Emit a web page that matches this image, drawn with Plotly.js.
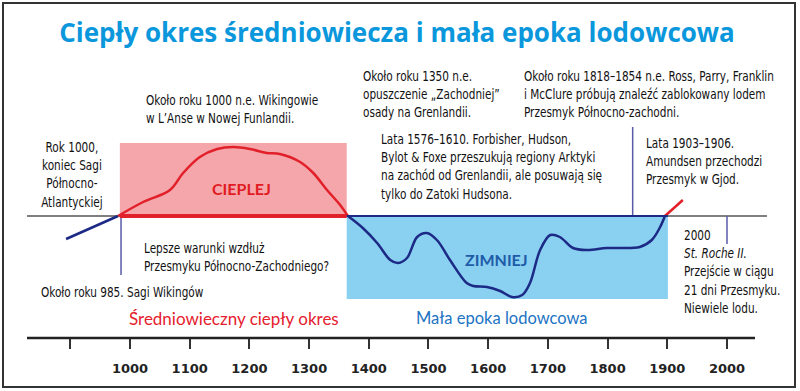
<!DOCTYPE html>
<html>
<head>
<meta charset="utf-8">
<script src="https://cdn.plot.ly/plotly-3.0.1.min.js"></script>
<style>
html,body{margin:0;padding:0;background:#fff;}
#chart{width:800px;height:391px;}
</style>
</head>
<body>
<div id="chart"></div>
<script>
// ---- data (years, relative temperature anomaly) ----
const leadYears   = [893, 980];
const leadValues  = [-0.23, 0];
const warmYears   = [980, 1022, 1067, 1089, 1117, 1146, 1173, 1201, 1229, 1251, 1285, 1307, 1330, 1352, 1365];
const warmValues  = [0, 0.14, 0.26, 0.43, 0.59, 0.67, 0.69, 0.67, 0.63, 0.62, 0.54, 0.43, 0.26, 0.11, 0];
const coldYears   = [1365, 1390, 1414, 1436, 1449, 1464, 1481, 1497, 1514, 1536, 1564, 1575, 1598, 1620, 1640, 1657, 1670, 1687, 1704, 1720, 1742, 1766, 1799, 1854, 1874, 1888, 1896];
const coldValues  = [0, -0.12, -0.27, -0.44, -0.47, -0.42, -0.21, -0.17, -0.24, -0.44, -0.67, -0.70, -0.71, -0.75, -0.81, -0.79, -0.67, -0.34, -0.19, -0.21, -0.32, -0.34, -0.32, -0.31, -0.24, -0.11, 0];
const recentYears = [1896, 1913, 1926];
const recentValues= [0, 0.09, 0.16];

const warmPeriod  = [983, 1363];     // Medieval Warm Period band
const warmTop     = 0.73;
const coldPeriod  = [1363, 1901];    // Little Ice Age band
const coldBottom  = -0.83;

const eventYears  = [985, 1842, 2000];
const eventTops   = [0, 0.89, 0];
const eventBottoms= [-0.59, 0, -0.28];

const tickYears   = [900, 1000, 1100, 1200, 1300, 1400, 1500, 1600, 1700, 1800, 1900, 2000];
const tickLabels  = ['', '1000', '1100', '1200', '1300', '1400', '1500', '1600', '1700', '1800', '1900', '2000'];

// ---- layout helpers (pixel -> paper) ----
const L = 27, R = 767, T = 60, B = 338;
const px = x => (x - L) / (R - L);
const py = y => (B - y) / (B - T);

const NAVY = '#1c2a85';
const RED = '#e2202a';
const TXT = "'DejaVu Sans Condensed', 'DejaVu Sans', sans-serif";
const CONDENSE = 0.835;   // horizontal squeeze to mimic a condensed face

const traces = [
  {x: leadYears, y: leadValues, mode: 'lines', line: {color: NAVY, width: 2.5, shape: 'spline'}, hoverinfo: 'skip'},
  {x: warmYears, y: warmValues, mode: 'lines', line: {color: RED, width: 2.5, shape: 'spline', smoothing: 1}, hoverinfo: 'skip'},
  {x: coldYears, y: coldValues, mode: 'lines', line: {color: NAVY, width: 2.5, shape: 'spline', smoothing: 1}, hoverinfo: 'skip'},
  {x: recentYears, y: recentValues, mode: 'lines', line: {color: RED, width: 2.5, shape: 'spline'}, hoverinfo: 'skip'}
];

const shapes = [
  {type: 'rect', xref: 'paper', yref: 'paper', x0: px(3), x1: px(795), y0: py(387), y1: py(3),
   line: {color: '#333', width: 2}, fillcolor: 'rgba(0,0,0,0)', layer: 'below'},
  {type: 'rect', xref: 'x', yref: 'y', x0: warmPeriod[0], x1: warmPeriod[1], y0: 0, y1: warmTop,
   fillcolor: 'rgb(244,166,171)', line: {width: 0}, layer: 'below'},
  {type: 'rect', xref: 'x', yref: 'y', x0: coldPeriod[0], x1: coldPeriod[1], y0: coldBottom, y1: 0,
   fillcolor: 'rgb(137,208,241)', line: {width: 0}, layer: 'below'},
  {type: 'line', xref: 'paper', yref: 'y', x0: 0, x1: 1, y0: 0, y1: 0, line: {color: '#555', width: 1.5}, layer: 'below'},
  {type: 'line', xref: 'x', yref: 'y', x0: warmPeriod[0], x1: warmPeriod[1], y0: 0, y1: 0, line: {color: RED, width: 4}},
  {type: 'line', xref: 'x', yref: 'y', x0: coldPeriod[0], x1: coldPeriod[1], y0: 0, y1: 0, line: {color: NAVY, width: 2}},
  {type: 'line', xref: 'paper', yref: 'paper', x0: 0, x1: px(755), y0: 0, y1: 0, line: {color: '#222', width: 2.5}}
];
eventYears.forEach((yr, i) => {
  shapes.push({type: 'line', xref: 'x', yref: 'y', x0: yr, x1: yr, y0: eventBottoms[i], y1: eventTops[i],
    line: {color: '#5a5aa8', width: 1.5}, layer: 'below'});
});

const note = (text, x, y, opts = {}) => Object.assign({
  text, xref: 'paper', yref: 'paper', x: px(x), y: py(y),
  xanchor: 'left', yanchor: 'middle', align: 'left', showarrow: false,
  font: {family: TXT, size: 14, color: '#111'}
}, opts);

const annotations = [
  note('Rok 1000,<br>koniec Sagi<br>Północno-<br>Atlantyckiej', 72, 174.5, {xanchor: 'center', align: 'center'}),
  note('Około roku 1000 n.e. Wikingowie<br>w L’Anse w Nowej Funlandii.', 144, 109),
  note('Około roku 1350 n.e.<br>opuszczenie „Zachodniej”<br>osady na Grenlandii.', 361, 93.5),
  note('Około roku 1818–1854 n.e. Ross, Parry, Franklin<br>i McClure próbują znaleźć zablokowany lodem<br>Przesmyk Północno-zachodni.', 522, 93.5),
  note('Lata 1576–1610. Forbisher, Hudson,<br>Bylot &amp; Foxe przeszukują regiony Arktyki<br>na zachód od Grenlandii, ale posuwają się<br>tylko do Zatoki Hudsona.', 379, 166.5),
  note('Lata 1903–1906.<br>Amundsen przechodzi<br>Przesmyk w Gjod.', 644, 160.5),
  note('Lepsze warunki wzdłuż<br>Przesmyku Północno-Zachodniego?', 142, 257),
  note('Około roku 985. Sagi Wikingów', 39, 292),
  note('2000<br><i>St. Roche II.</i><br>Przejście w ciągu<br>21 dni Przesmyku.<br>Niewiele lodu.', 682, 271),
  note('Średniowieczny ciepły okres', 127, 318, {font: {family: 'Lato, sans-serif', size: 17, color: '#e5202e'}}),
  note('Mała epoka lodowcowa', 414, 318, {font: {family: 'Lato, sans-serif', size: 16.5, color: '#1b73c3'}}),
  note('<b>CIEPLEJ</b>', 242, 188, {xanchor: 'center', font: {family: 'Lato, sans-serif', size: 16, color: '#e11b22'}}),
  note('<b>ZIMNIEJ</b>', 497, 259, {xanchor: 'center', font: {family: 'Lato, sans-serif', size: 16, color: '#1f5ca8'}})
];
const condensedNotes = [0, 1, 2, 3, 4, 5, 6, 7, 8];

const layout = {
  width: 800, height: 391,
  margin: {l: L, r: 800 - R, t: T, b: 391 - B, pad: 0},
  paper_bgcolor: '#fff', plot_bgcolor: '#fff',
  showlegend: false,
  title: {
    text: '<b>Ciepły okres średniowiecza i mała epoka lodowcowa</b>',
    x: 0.5, xanchor: 'center', xref: 'paper',
    y: 1 - 33 / 391, yref: 'container', yanchor: 'middle',
    font: {family: "'Open Sans', sans-serif", size: 26, color: '#0a97dc'}
  },
  xaxis: {
    range: [827.5, 2067], showgrid: false, zeroline: false, showline: false,
    tickmode: 'array', tickvals: tickYears, ticktext: tickLabels,
    ticks: 'outside', ticklen: 10, tickwidth: 2, tickcolor: '#333',
    ticklabelstandoff: 8,
    tickfont: {family: "'DejaVu Sans', sans-serif", size: 13, color: '#222', weight: 'bold'},
    fixedrange: true
  },
  yaxis: {range: [-1.22, 1.56], visible: false, fixedrange: true},
  shapes, annotations
};

Plotly.newPlot('chart', traces, layout, {displayModeBar: false, staticPlot: true}).then(gd => {
  const NS = 'http://www.w3.org/2000/svg';
  condensedNotes.forEach(i => {
    const g = gd.querySelector('g.annotation[data-index="' + i + '"]');
    if (!g) return;
    const t = g.querySelector('text.annotation-text');
    if (!t) return;
    const wrap = document.createElementNS(NS, 'g');
    t.parentNode.insertBefore(wrap, t);
    wrap.appendChild(t);
    const bb = wrap.getBBox();
    const centered = annotations[i].xanchor === 'center';
    const ax = centered ? bb.x + bb.width / 2 : bb.x;
    wrap.setAttribute('transform', 'translate(' + ax + ',0) scale(' + CONDENSE + ',1) translate(' + (-ax) + ',0)');
  });
});
</script>
</body>
</html>
